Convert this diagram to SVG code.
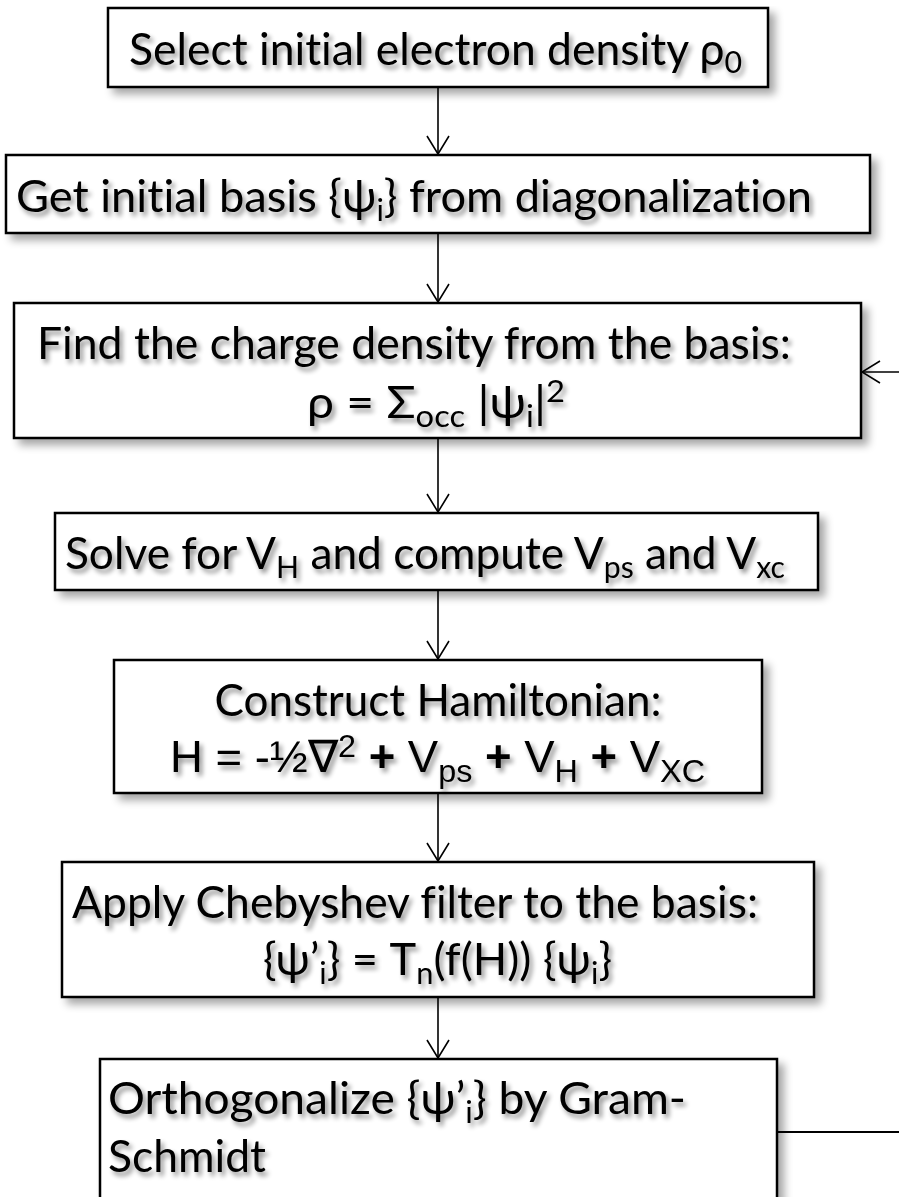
<svg xmlns="http://www.w3.org/2000/svg" width="899" height="1197" viewBox="0 0 899 1197">
<style>
.box{fill:#fff;stroke:#000;stroke-width:2.5;filter:url(#bs)}
.t{font-family:Lato,"Noto Sans",sans-serif;font-size:44px;fill:#000;filter:url(#ts);font-variant-ligatures:none}
.a{font-family:"Liberation Sans",Arial,sans-serif;font-size:45px;fill:#000;filter:url(#ts)}
.conn{stroke:#000;stroke-width:1.6;fill:none}
</style>
<defs>
<filter id="bs" x="-5%" y="-10%" width="115%" height="130%">
<feGaussianBlur in="SourceAlpha" stdDeviation="4"/>
<feOffset dx="6" dy="6" result="b"/>
<feComponentTransfer><feFuncA type="linear" slope="0.35"/></feComponentTransfer>
<feMerge><feMergeNode/><feMergeNode in="SourceGraphic"/></feMerge>
</filter>
<filter id="ts" x="-5%" y="-20%" width="115%" height="150%">
<feGaussianBlur in="SourceAlpha" stdDeviation="2.5"/>
<feOffset dx="3" dy="4"/>
<feComponentTransfer><feFuncA type="linear" slope="0.45"/></feComponentTransfer>
<feMerge><feMergeNode/><feMergeNode in="SourceGraphic"/></feMerge>
</filter>
<marker id="ah" viewBox="0 0 20 24" refX="19" refY="12" markerWidth="20" markerHeight="24" markerUnits="userSpaceOnUse" orient="auto">
<path d="M1,1 L19,12 L1,23" fill="none" stroke="#000" stroke-width="1.6"/>
</marker>
</defs>

<g id="n1">
<rect class="box" x="108" y="8" width="660" height="79"/>
<text class="t" x="129" y="65" textLength="613" lengthAdjust="spacingAndGlyphs">Select initial electron density ρ<tspan font-size="30" dy="8">0</tspan></text>
</g>

<g id="n2">
<rect class="box" x="6" y="155" width="864" height="78"/>
<text class="t" x="16" y="212" textLength="796" lengthAdjust="spacingAndGlyphs">Get initial  basis {ψ<tspan font-size="30" dy="9">i</tspan><tspan dy="-9">} from diagonalization</tspan></text>
</g>

<g id="n3">
<rect class="box" x="14" y="303" width="847" height="135"/>
<text class="t" x="37" y="359" textLength="754" lengthAdjust="spacingAndGlyphs">Find the charge density from the basis:</text>
<text class="t" x="307" y="418" textLength="258" lengthAdjust="spacingAndGlyphs">ρ = Σ<tspan font-size="30" dy="9">occ</tspan><tspan dy="-9"> |ψ</tspan><tspan font-size="30" dy="9">i</tspan><tspan dy="-9">|</tspan><tspan font-size="30" dy="-16">2</tspan></text>
</g>

<g id="n4">
<rect class="box" x="55" y="513" width="763" height="77"/>
<text class="t" x="65" y="569" textLength="720" lengthAdjust="spacingAndGlyphs">Solve for V<tspan font-size="30" dy="9">H</tspan><tspan dy="-9"> and compute V</tspan><tspan font-size="30" dy="9">ps</tspan><tspan dy="-9"> and V</tspan><tspan font-size="30" dy="9">xc</tspan></text>
</g>

<g id="n5">
<rect class="box" x="114" y="660" width="648" height="133"/>
<text class="t" x="438" y="716" text-anchor="middle" textLength="447" lengthAdjust="spacingAndGlyphs">Construct Hamiltonian:</text>
<text class="a" x="170" y="772" textLength="535" lengthAdjust="spacingAndGlyphs">H = -½∇<tspan font-size="32" dy="-15">2</tspan><tspan dy="15" font-weight="bold"> + </tspan>V<tspan font-size="32" dy="10">ps</tspan><tspan dy="-10" font-weight="bold"> + </tspan>V<tspan font-size="32" dy="10">H</tspan><tspan dy="-10" font-weight="bold"> + </tspan>V<tspan font-size="32" dy="10">XC</tspan></text>
</g>

<g id="n6">
<rect class="box" x="62" y="862" width="752" height="135"/>
<text class="t" x="72" y="918" textLength="686" lengthAdjust="spacingAndGlyphs">Apply Chebyshev filter to the basis:</text>
<text class="t" x="263" y="975" textLength="349" lengthAdjust="spacingAndGlyphs">{ψ’<tspan font-size="30" dy="9">i</tspan><tspan dy="-9">} = T</tspan><tspan font-size="30" dy="9">n</tspan><tspan dy="-9">(f(H)) {ψ</tspan><tspan font-size="30" dy="9">i</tspan><tspan dy="-9">}</tspan></text>
</g>

<g id="n7">
<rect class="box" x="100" y="1059" width="677" height="160"/>
<text class="t" x="108" y="1114" textLength="578" lengthAdjust="spacingAndGlyphs">Orthogonalize {ψ’<tspan font-size="30" dy="9">i</tspan><tspan dy="-9">} by Gram-</tspan></text>
<text class="t" x="108" y="1172" textLength="158" lengthAdjust="spacingAndGlyphs">Schmidt</text>
</g>

<g id="connectors">
<line class="conn" x1="438" y1="87" x2="438" y2="154" marker-end="url(#ah)"/>
<line class="conn" x1="438" y1="233" x2="438" y2="302" marker-end="url(#ah)"/>
<line class="conn" x1="438" y1="438" x2="438" y2="512" marker-end="url(#ah)"/>
<line class="conn" x1="438" y1="590" x2="438" y2="659" marker-end="url(#ah)"/>
<line class="conn" x1="438" y1="793" x2="438" y2="861" marker-end="url(#ah)"/>
<line class="conn" x1="438" y1="997" x2="438" y2="1058" marker-end="url(#ah)"/>
<line class="conn" x1="899" y1="372" x2="862" y2="372" marker-end="url(#ah)"/>
<line class="conn" x1="777" y1="1132" x2="899" y2="1132" style="stroke-width:2.2"/>
</g>
</svg>
